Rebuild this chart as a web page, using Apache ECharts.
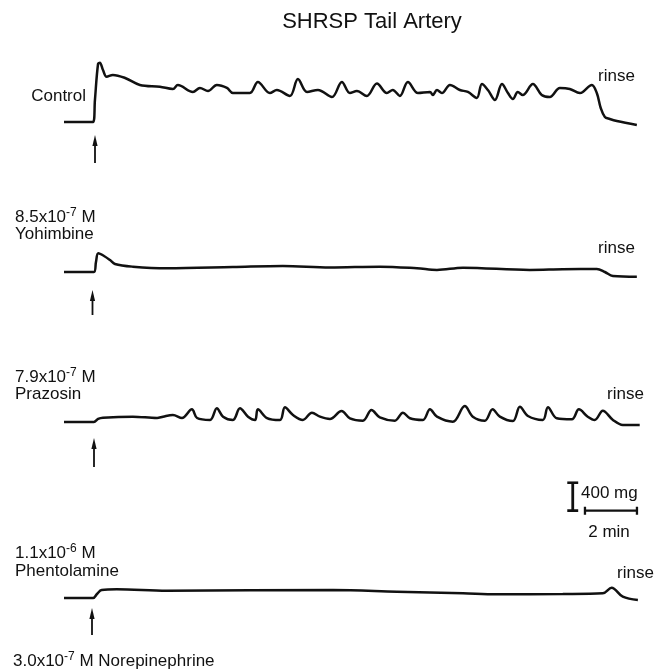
<!DOCTYPE html>
<html>
<head>
<meta charset="utf-8">
<script src="https://cdn.jsdelivr.net/npm/echarts@6/dist/echarts.min.js"></script>
<style>
  html, body { margin: 0; padding: 0; background: #fff; }
  #main { width: 670px; height: 671px; }
</style>
</head>
<body>
<div id="main"></div>
<script>
// traces: [time (min), tension (mg above resting baseline)]
var control = [
  [0, 0], [1.12, 0], [1.19, 314], [1.31, 829], [1.38, 847], [1.5, 743], [1.64, 647],
  [1.88, 672], [2.35, 629], [2.92, 529], [3.69, 504], [4.19, 472], [4.38, 529],
  [4.96, 429], [5.23, 486], [5.54, 443], [5.88, 529], [6.27, 486], [6.5, 414],
  [7.15, 414], [7.46, 572], [7.92, 414], [8.19, 457], [8.69, 372], [9.0, 614],
  [9.35, 429], [9.77, 457], [10.31, 357], [10.69, 572], [11.0, 414], [11.27, 443],
  [11.65, 372], [12.04, 550], [12.42, 414], [12.65, 457], [12.92, 372], [13.23, 572],
  [13.62, 414], [14.08, 429], [14.19, 386], [14.35, 457], [14.54, 414], [14.85, 529],
  [15.23, 457], [15.54, 429], [15.88, 343], [16.08, 543], [16.31, 457], [16.58, 314],
  [16.85, 543], [17.08, 414], [17.27, 329], [17.46, 429], [17.65, 386], [18.04, 543],
  [18.38, 386], [18.69, 357], [19.08, 486], [19.46, 472], [19.85, 414], [19.96, 429],
  [20.31, 529], [20.5, 414], [20.65, 200], [20.81, 71], [21.0, 43], [21.27, 14],
  [22.04, -43]
];
var yohimbine = [
  [0, 0], [1.15, 0], [1.23, 143], [1.32, 267], [1.54, 229], [1.77, 171], [1.96, 114],
  [2.65, 76], [3.96, 53], [6.5, 71], [8.42, 86], [10.23, 64], [12.15, 76], [13.58, 53],
  [14.35, 29], [15.35, 61], [17.92, 29], [19.19, 39], [20.5, 43], [20.81, 0],
  [21.12, -57], [22.04, -67]
];
var prazosin = [
  [0, 0], [1.15, 0], [1.31, 43], [1.5, 61], [2.65, 76], [3.58, 57], [3.81, 76],
  [4.19, 100], [4.54, 57], [4.92, 181], [5.12, 57], [5.62, 29], [5.88, 196], [6.12, 76],
  [6.5, 29], [6.77, 196], [7.08, 76], [7.35, 29], [7.46, 181], [7.81, 57], [8.31, 29],
  [8.5, 210], [8.81, 100], [9.19, 29], [9.54, 133], [9.85, 76], [10.23, 43],
  [10.68, 157], [11.0, 53], [11.5, 19], [11.83, 171], [12.15, 67], [12.73, 19],
  [13.04, 133], [13.31, 53], [13.81, 29], [14.08, 181], [14.35, 76], [14.96, 4],
  [15.42, 229], [15.73, 76], [16.19, 19], [16.49, 181], [16.77, 76], [17.27, 14],
  [17.54, 219], [17.85, 86], [18.42, 29], [18.62, 210], [18.96, 53], [19.54, 39],
  [19.81, 181], [20.15, 76], [20.42, 29], [20.73, 161], [21.12, 29], [21.5, -43],
  [22.15, -43]
];
var phentolamine = [
  [0, 0], [1.12, 0], [1.27, 57], [1.45, 114], [2.03, 124], [3.96, 104], [10.35, 114],
  [12.81, 90], [15.35, 67], [16.65, 53], [19.19, 57], [20.73, 67], [21.07, 147],
  [21.5, 19], [22.08, -29]
];
var traces = [control, yohimbine, prazosin, phentolamine];
var scaleForce = 400;   // mg
var scaleTime = 2;      // min

var font = '"Liberation Sans", Arial, sans-serif';
var ink = '#111';
var tops = [52, 202, 352, 528];

var myChart = echarts.init(document.getElementById('main'));

var grids = [], xAxes = [], yAxes = [], series = [];
tops.forEach(function (top, i) {
    grids.push({left: 64, top: top, width: 577, height: 84});
    xAxes.push({type: 'value', gridIndex: i, min: 0, max: 22.2, show: false});
    yAxes.push({type: 'value', gridIndex: i, min: -200, max: 1000, show: false});
    series.push({
        type: 'line', xAxisIndex: i, yAxisIndex: i, data: traces[i],
        showSymbol: false, smooth: 0.35, silent: true,
        lineStyle: {color: ink, width: 2.5}
    });
});

// calibration bars in their own grid at the same scale
grids.push({left: 560, top: 482.7, width: 78, height: 35});
xAxes.push({type: 'value', gridIndex: 4, min: 0, max: 3, show: false});
yAxes.push({type: 'value', gridIndex: 4, min: -100, max: 400, show: false});
var vx = 0.49, hx = 0.96;
var bars = [
    [[vx, 0], [vx, scaleForce]],
    [[vx - 0.21, 0], [vx + 0.21, 0]],
    [[vx - 0.21, scaleForce], [vx + 0.21, scaleForce]],
    [[hx, 0], [hx + scaleTime, 0]],
    [[hx, -57], [hx, 57]],
    [[hx + scaleTime, -57], [hx + scaleTime, 57]]
];
bars.forEach(function (d, k) {
    series.push({
        type: 'line', xAxisIndex: 4, yAxisIndex: 4, data: d, showSymbol: false,
        silent: true, lineStyle: {color: ink, width: k < 3 ? 2.8 : 2.3}
    });
});

function txt(x, y, s, align) {
    return {
        type: 'text', x: x, y: y, silent: true,
        style: {
            text: s, fill: ink, font: '17px ' + font,
            align: align || 'left', verticalAlign: 'middle',
            rich: {
                a: {fontSize: 17, fontFamily: font, fill: ink, lineHeight: 20},
                s: {fontSize: 12, fontFamily: font, fill: ink, verticalAlign: 'top', lineHeight: 14}
            }
        }
    };
}
function arrow(x, y1, y2) {
    return {
        type: 'group', silent: true, children: [
            {type: 'line', shape: {x1: x, y1: y1 + 6, x2: x, y2: y2}, style: {stroke: ink, lineWidth: 1.8}},
            {type: 'polygon', shape: {points: [[x, y1], [x - 2.6, y1 + 11], [x + 2.6, y1 + 11]]}, style: {fill: ink}}
        ]
    };
}

var graphics = [
    {type: 'text', x: 372, y: 22, silent: true,
     style: {text: 'SHRSP Tail Artery', fill: ink, font: '22px ' + font, align: 'center', verticalAlign: 'middle'}},
    txt(86, 96, 'Control', 'right'),
    txt(598, 76, 'rinse'),
    txt(15, 217, '{a|8.5x10}{s|-7}{a| M}'),
    txt(15, 234, 'Yohimbine'),
    txt(598, 248, 'rinse'),
    txt(15, 377, '{a|7.9x10}{s|-7}{a| M}'),
    txt(15, 394, 'Prazosin'),
    txt(607, 394, 'rinse'),
    txt(15, 553, '{a|1.1x10}{s|-6}{a| M}'),
    txt(15, 571, 'Phentolamine'),
    txt(617, 573, 'rinse'),
    txt(13, 661, '{a|3.0x10}{s|-7}{a| M Norepinephrine}'),
    txt(581, 493, '400 mg'),
    txt(609, 532, '2 min', 'center'),
    arrow(95, 135, 163),
    arrow(92.5, 290, 315),
    arrow(94, 438, 467),
    arrow(92, 608, 635)
];

myChart.setOption({
    animation: false,
    backgroundColor: '#fff',
    grid: grids,
    xAxis: xAxes,
    yAxis: yAxes,
    series: series,
    graphic: graphics
});
window.onresize = function () {
    myChart.resize();
};
</script>
</body>
</html>
